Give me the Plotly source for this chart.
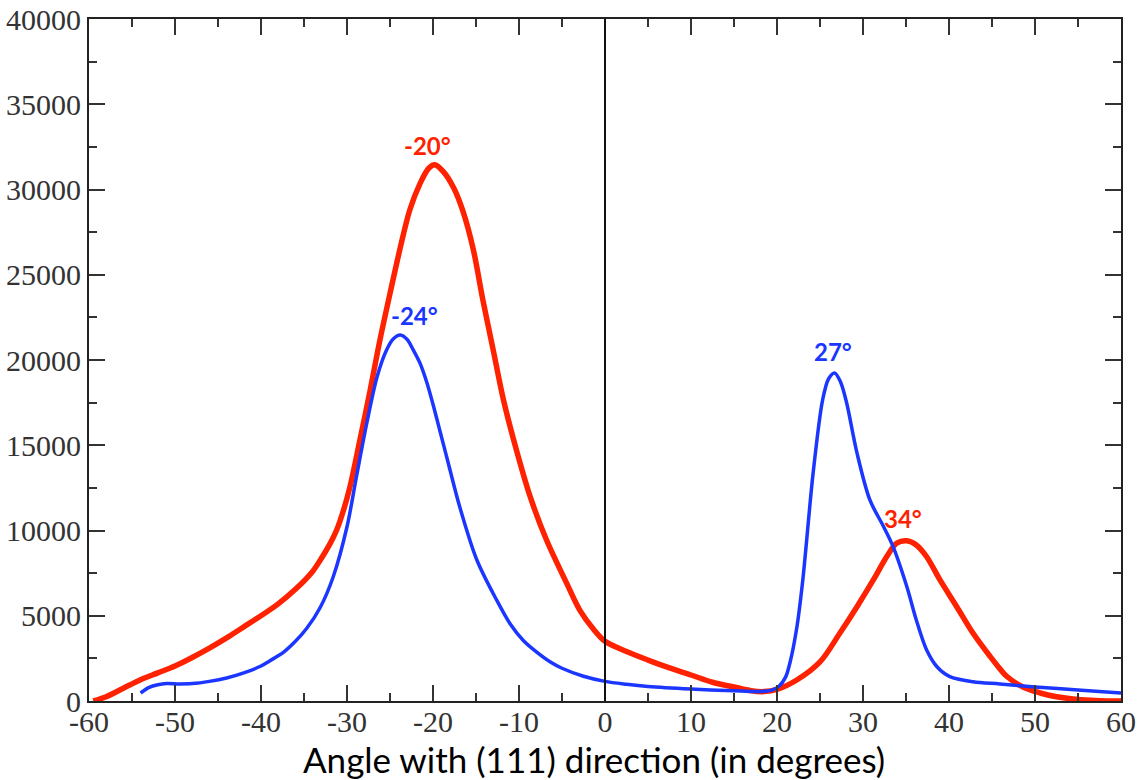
import plotly.graph_objects as go

# Red distribution (angle in degrees vs. counts)
red_angle = [-59.5, -58, -56, -54, -52, -50, -48, -46, -44, -42, -40, -38, -36, -34,
             -33.1, -32, -31.2, -30.4, -29.65, -28.5, -27.3, -26.2, -25, -23.8, -22.7,
             -21.5, -20.5, -19.8, -18.8, -17.6, -16.5, -15.3, -14.2, -13.0, -11.8, -10.3,
             -8.7, -6.8, -4.45, -2.9, -1.4, 0, 2.5, 5, 7.5, 10, 12.5, 15, 17, 18.5, 20,
             22.3, 25, 27.3, 29.3, 31.2, 32.75, 33.9, 35.1, 36.2, 37.4, 38.95, 40.9,
             42.8, 44.8, 45.9, 46.7, 48.6, 50.6, 52.5, 54.4, 56.5, 58.4, 60]
red_count = [0, 250, 750, 1250, 1650, 2050, 2550, 3100, 3700, 4350, 5000, 5700, 6550, 7600,
             8270, 9200, 10030, 11200, 12570, 15300, 18240, 21100, 23900, 26600, 28800,
             30360, 31250, 31450, 31050, 30100, 28700, 26450, 23520, 20590, 17650, 14720,
             11980, 9440, 6900, 5300, 4250, 3500, 2900, 2400, 1940, 1525, 1100, 820, 600,
             550, 680, 1230, 2290, 3970, 5530, 7100, 8460, 9250, 9400, 9150, 8460, 7100,
             5530, 3970, 2600, 1900, 1450, 820, 470, 250, 120, 40, 0, 0]

# Blue distribution
blue_angle = [-54, -53, -52, -51, -49.5, -48, -46, -44, -42, -40, -39, -37.4, -36, -34.7,
              -33.1, -31.6, -30.0, -28.9, -27.7, -26.5, -25.4, -24.6, -23.8, -23.0, -22.3,
              -21.5, -20.7, -20.0, -19.2, -18.4, -16.9, -14.9, -12.6, -11, -9.5, -7.9,
              -6.4, -5, -2.5, 0, 2.5, 5, 10, 15, 18, 19.3, 20.2, 21, 21.5, 22.3, 23, 24.2,
              25.3, 26.0, 26.7, 27.4, 28.1, 29.3, 30.8, 32.4, 33.5, 35.1, 36.2, 37.4, 38.6,
              40.1, 42.8, 45.9, 50, 55, 60]
blue_count = [470, 800, 950, 1020, 1000, 1020, 1150, 1350, 1650, 2050, 2350, 2850, 3500,
              4250, 5500, 7290, 10220, 13160, 16290, 19020, 20590, 21250, 21470, 21200,
              20590, 19800, 18650, 17400, 15850, 14300, 11400, 8270, 5920, 4500, 3550, 2850,
              2300, 1920, 1450, 1150, 980, 850, 700, 600, 560, 620, 850, 1400, 2230, 4300,
              7100, 13370, 17650, 18900, 19240, 18700, 17480, 14550, 11790, 10220, 9050,
              6700, 4750, 2990, 2010, 1430, 1130, 1000, 820, 650, 470]

# Peak labels: (angle, height, text, colour)
peak_labels = [
    (-20.6, 32600, "-20°", "#ff2200"),
    (-22.2, 22600, "-24°", "#1b36ff"),
    (26.5, 20500, "27°", "#1b36ff"),
    (34.7, 10700, "34°", "#ff2200"),
]

x_ticks = [-60, -50, -40, -30, -20, -10, 0, 10, 20, 30, 40, 50, 60]
y_ticks = [0, 5000, 10000, 15000, 20000, 25000, 30000, 35000, 40000]

RED = "#ff2200"
BLUE = "#1b36ff"

fig = go.Figure()
fig.add_trace(go.Scatter(x=red_angle, y=red_count, mode="lines",
                         line=dict(color=RED, width=5.5, shape="spline", smoothing=0.9),
                         hoverinfo="skip"))
fig.add_trace(go.Scatter(x=blue_angle, y=blue_count, mode="lines",
                         line=dict(color=BLUE, width=3.5, shape="spline", smoothing=0.9),
                         hoverinfo="skip"))

# vertical reference line at 0°
fig.add_shape(type="line", x0=0, x1=0, y0=0, y1=1, xref="x", yref="paper",
              line=dict(color="#111", width=2))

for ang, h, txt, col in peak_labels:
    fig.add_annotation(x=ang, y=h, text=f"<b>{txt}</b>", showarrow=False,
                       font=dict(family="Lato", size=24, color=col))

fig.add_annotation(x=0.489, y=0, xref="paper", yref="paper", yshift=-58,
                   text="Angle with (111) direction (in degrees)", showarrow=False,
                   xanchor="center", yanchor="middle",
                   font=dict(family="Lato", size=35, color="#000"))

tick_font = dict(family="Liberation Serif", size=30, color="#333")
axis_common = dict(showgrid=False, zeroline=False, showline=True, linecolor="#222",
                   linewidth=2, mirror="allticks", ticks="inside", ticklen=16,
                   tickwidth=1.5, tickcolor="#333", tickfont=tick_font,
                   automargin=False)

fig.update_xaxes(range=[-60, 60], tickvals=x_ticks, ticktext=[str(v) for v in x_ticks],
                 ticklabelstandoff=-7,
                 minor=dict(ticks="inside", ticklen=8, dtick=5, tickcolor="#333",
                            tickwidth=1.5),
                 **axis_common)
fig.update_yaxes(range=[0, 40000], tickvals=y_ticks, ticktext=[str(v) for v in y_ticks],
                 minor=dict(ticks="inside", ticklen=8, dtick=2500, tickcolor="#333",
                            tickwidth=1.5),
                 **axis_common)

fig.update_layout(width=1141, height=780, showlegend=False,
                  margin=dict(l=89, r=20, t=19, b=79),
                  plot_bgcolor="white", paper_bgcolor="white")

fig.write_html("out.html")
